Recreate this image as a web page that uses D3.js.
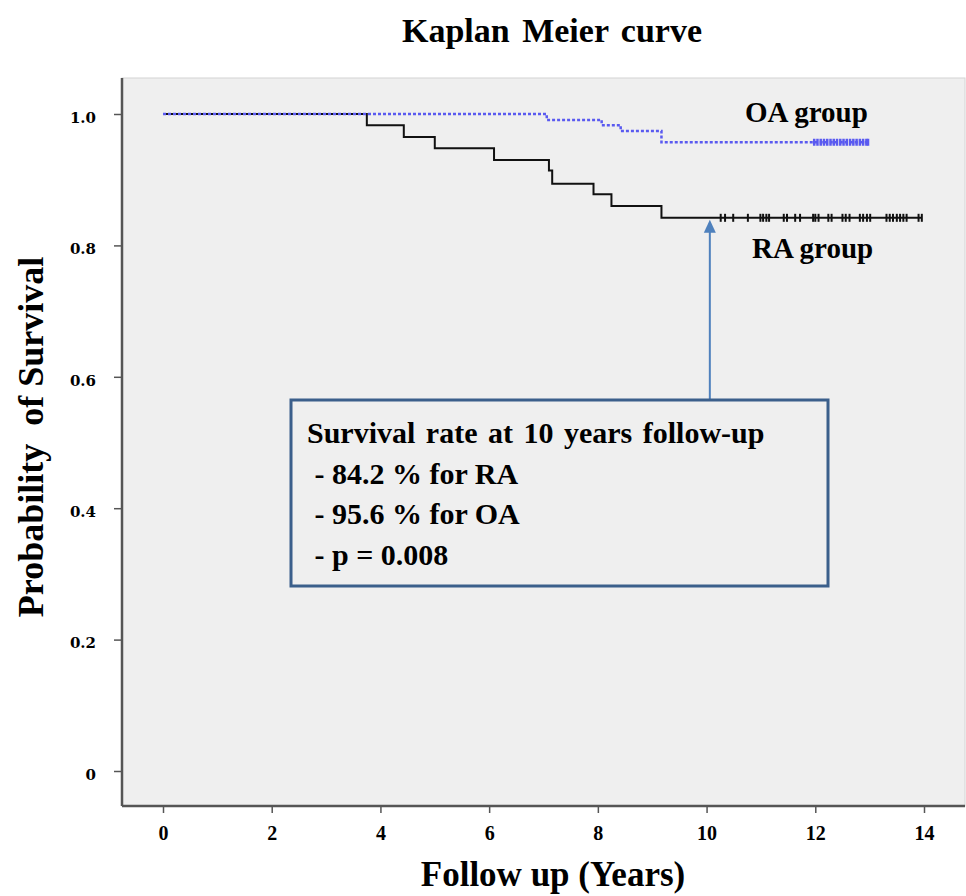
<!DOCTYPE html>
<html>
<head>
<meta charset="utf-8">
<script src="https://cdn.jsdelivr.net/npm/d3@7/dist/d3.min.js"></script>
<style>
  body { margin: 0; background: #fff; }
  text { font-family: "Liberation Serif", "Times New Roman", serif; font-weight: bold; fill: #000; }
</style>
</head>
<body>
<div id="chart"></div>
<script>
var width = 966,
	height = 896;

// step points of each curve: time (years) and survival
var raTimes = [0, 3.75, 4.43, 5.0, 6.09, 7.10, 7.16, 7.92, 8.25, 9.17, 13.96];
var raSurv  = [1.0, 0.983, 0.965, 0.948, 0.930, 0.914, 0.894, 0.878, 0.860, 0.842, 0.842];
var oaTimes = [0, 7.06, 8.07, 8.42, 9.17, 12.97];
var oaSurv  = [1.0, 0.991, 0.983, 0.974, 0.957, 0.957];

// censored cases
var raCensor = [10.26, 10.34, 10.49, 10.76, 10.99, 11.04, 11.10, 11.15, 11.42, 11.48, 11.63, 11.72,
	11.96, 12.0, 12.06, 12.24, 12.30, 12.50, 12.56, 12.63, 12.82, 12.88, 12.95, 13.01,
	13.31, 13.37, 13.43, 13.50, 13.56, 13.62, 13.68, 13.90, 13.96];
var oaCensor = [11.98, 12.04, 12.10, 12.16, 12.22, 12.28, 12.34, 12.40, 12.46, 12.52, 12.58,
	12.64, 12.70, 12.76, 12.82, 12.88, 12.94, 12.97];

var xTicks = [0, 2, 4, 6, 8, 10, 12, 14];
var yTicks = [0, 0.2, 0.4, 0.6, 0.8, 1.0];
var yTickLabels = ["0", "0.2", "0.4", "0.6", "0.8", "1.0"];

var boxLines = ["Survival rate at 10 years follow-up", " - 84.2 % for RA", " - 95.6 % for OA", " - p = 0.008"];

var svg = d3.select("#chart").append("svg")
	.attr("width", width)
	.attr("height", height);

var x = d3.scaleLinear().domain([0, 14]).range([163, 924]);
var y = d3.scaleLinear().domain([0, 1]).range([771, 114]);

// panel
var panel = { left: 122, top: 78, right: 965, bottom: 806 };
svg.append("rect")
	.attr("x", panel.left)
	.attr("y", panel.top)
	.attr("width", panel.right - panel.left)
	.attr("height", panel.bottom - panel.top)
	.style("fill", "#efefef")
	.style("stroke", "#d4d4d4")
	.style("stroke-width", 1);

// axes
var xAxis = d3.axisBottom(x).tickValues(xTicks).tickSize(7).tickFormat(d3.format("d"));
var yAxis = d3.axisLeft(y).tickValues(yTicks).tickSize(8)
	.tickFormat(function(d, i){ return yTickLabels[i]; });

var gx = svg.append("g")
	.attr("transform", "translate(0," + panel.bottom + ")")
	.call(xAxis)
	.attr("font-size", 20)
	.attr("font-family", "Liberation Serif");
gx.select(".domain").attr("d", "M" + panel.left + ",0H" + panel.right);

var gy = svg.append("g")
	.attr("transform", "translate(" + panel.left + ",0)")
	.call(yAxis)
	.attr("font-size", 15)
	.attr("font-family", "DejaVu Serif");
gy.select(".domain").attr("d", "M0," + panel.top + "V" + panel.bottom);

svg.selectAll(".domain").style("stroke", "#555").style("stroke-width", 2.5);
svg.selectAll(".tick line").style("stroke", "#555").style("stroke-width", 1.5);
gx.selectAll(".tick text")
	.attr("y", 34)
	.attr("dy", 0)
	.style("font-family", "'Liberation Serif', serif");
gy.selectAll(".tick text")
	.attr("x", -26)
	.attr("dy", "0.55em")
	.style("font-family", "'DejaVu Serif', serif");

// curves
function stepData(times, surv) {
	return times.map(function(t, i){ return [t, surv[i]]; });
}
var line = d3.line()
	.x(function(d){ return x(d[0]); })
	.y(function(d){ return y(d[1]); })
	.curve(d3.curveStepAfter);

svg.append("path")
	.datum(stepData(raTimes, raSurv))
	.attr("d", line)
	.style("fill", "none")
	.style("stroke", "#111")
	.style("stroke-width", 2);

svg.append("path")
	.datum(stepData(oaTimes, oaSurv))
	.attr("d", line)
	.style("fill", "none")
	.style("stroke", "#5a5af0")
	.style("stroke-width", 2.5)
	.style("stroke-dasharray", "3,2");

// censor marks
svg.selectAll(".raCensor")
	.data(raCensor)
	.enter()
	.append("line")
	.attr("class", "raCensor")
	.attr("x1", function(d){ return x(d); })
	.attr("x2", function(d){ return x(d); })
	.attr("y1", y(0.842) - 4)
	.attr("y2", y(0.842) + 4)
	.style("stroke", "#111")
	.style("stroke-width", 2);

svg.selectAll(".oaCensor")
	.data(oaCensor)
	.enter()
	.append("line")
	.attr("class", "oaCensor")
	.attr("x1", function(d){ return x(d); })
	.attr("x2", function(d){ return x(d); })
	.attr("y1", y(0.957) - 3.5)
	.attr("y2", y(0.957) + 3.5)
	.style("stroke", "#5a5af0")
	.style("stroke-width", 2.5);

// group labels
svg.append("text").attr("x", 745).attr("y", 122).style("font-size", "29px").text("OA group");
svg.append("text").attr("x", 752).attr("y", 258).style("font-size", "29px").text("RA group");

// arrow
var arrowX = x(10.06);
svg.append("line")
	.attr("x1", arrowX).attr("x2", arrowX)
	.attr("y1", 400).attr("y2", y(0.842) + 12)
	.style("stroke", "#4f81bd")
	.style("stroke-width", 2);
svg.append("path")
	.attr("d", "M" + arrowX + "," + (y(0.842) + 2) + "L" + (arrowX - 6) + "," + (y(0.842) + 15) + "L" + (arrowX + 6) + "," + (y(0.842) + 15) + "Z")
	.style("fill", "#4f81bd");

// annotation box
svg.append("rect")
	.attr("x", 291).attr("y", 400)
	.attr("width", 537).attr("height", 186)
	.style("fill", "#efefef")
	.style("stroke", "#3b5f8b")
	.style("stroke-width", 3);

svg.selectAll(".boxText")
	.data(boxLines)
	.enter()
	.append("text")
	.attr("class", "boxText")
	.attr("x", 307)
	.attr("y", function(d, i){ return 443 + i * 40.5; })
	.style("font-size", "30px")
	.style("word-spacing", function(d, i){ return i === 0 ? "3px" : "0px"; })
	.style("white-space", "pre")
	.text(function(d){ return d; });

// titles
svg.append("text")
	.attr("x", 552).attr("y", 42)
	.attr("text-anchor", "middle")
	.style("font-size", "34px")
	.style("word-spacing", "4px")
	.text("Kaplan Meier curve");

svg.append("text")
	.attr("x", 553).attr("y", 886)
	.attr("text-anchor", "middle")
	.style("font-size", "35px")
	.text("Follow up (Years)");

svg.append("text")
	.attr("transform", "translate(43,437) rotate(-90)")
	.attr("text-anchor", "middle")
	.style("font-size", "36px")
	.style("white-space", "pre")
	.text("Probability  of Survival");
</script>
</body>
</html>
